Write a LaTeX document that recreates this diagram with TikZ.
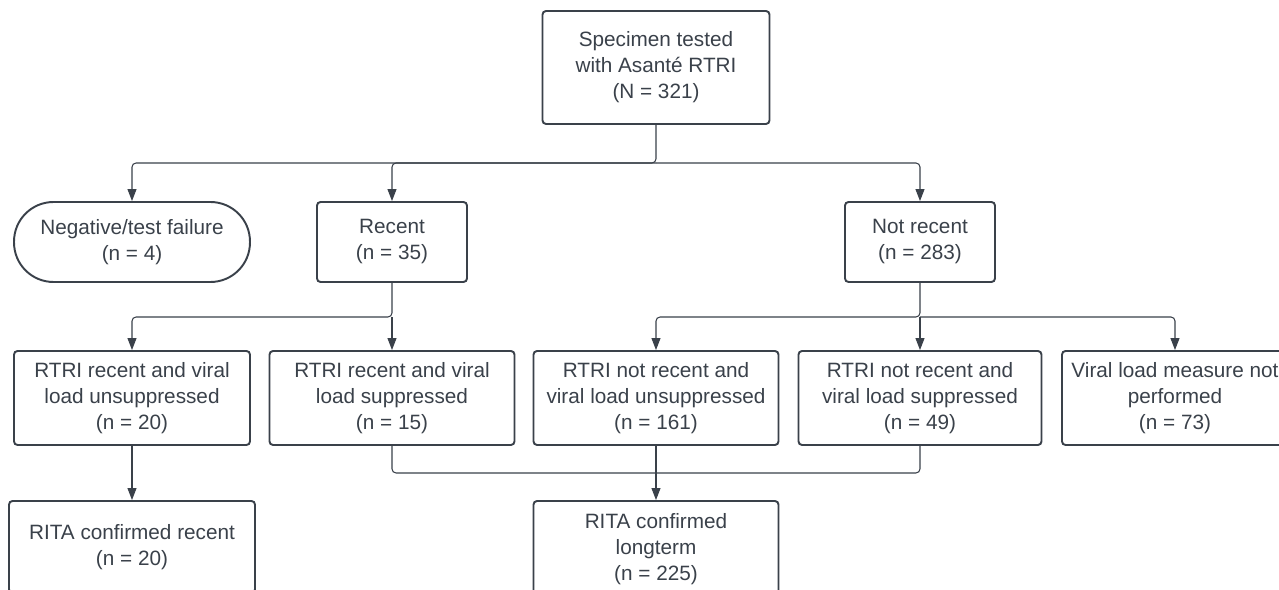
\documentclass[tikz,border=0pt]{standalone}
\usepackage{fontspec}
\setmainfont{Liberation Sans}
\usetikzlibrary{arrows.meta}
\definecolor{ink}{RGB}{58,65,74}

\begin{document}
\begin{tikzpicture}[x=0.02cm,y=-0.02cm]
\tikzstyle{box}=[draw=ink,line width=1.1pt,rounded corners=2pt,align=center,text=ink,inner sep=2pt,font=\fontsize{11.8pt}{14.8pt}\selectfont]
\tikzstyle{line}=[draw=ink,line width=0.6pt,rounded corners=2.3pt]
\tikzstyle{conn}=[line,-{Triangle[length=6.8pt,width=5.1pt]}]
\fill[white] (0,0) rectangle (1279,590);
\useasboundingbox (0,0) rectangle (1279,590);
\clip (0,0) rectangle (1279,590);
% top
\node[box,minimum width=4.54cm,minimum height=2.26cm] (spec) at (656,67.5) {Specimen tested\\with Asanté RTRI\\(N = 321)};
% second row
\node[box,rounded corners=0.79cm,minimum width=4.72cm,minimum height=1.6cm] (neg) at (132,242) {Negative/test failure\\(n = 4)};
\node[box,minimum width=3cm,minimum height=1.6cm] (recent) at (392,242) {Recent\\(n = 35)};
\node[box,minimum width=3cm,minimum height=1.6cm] (notrecent) at (920,242) {Not recent\\(n = 283)};
% third row
\node[box,minimum width=4.72cm,minimum height=1.88cm] (recunsup) at (132,398) {RTRI recent and viral\\load unsuppressed\\(n = 20)};
\node[box,minimum width=4.9cm,minimum height=1.88cm] (recsup) at (392,398) {RTRI recent and viral\\load suppressed\\(n = 15)};
\node[box,minimum width=4.9cm,minimum height=1.88cm] (notunsup) at (656,398) {RTRI not recent and\\viral load unsuppressed\\(n = 161)};
\node[box,minimum width=4.86cm,minimum height=1.88cm] (notsup) at (920,398) {RTRI not recent and\\viral load suppressed\\(n = 49)};
\node[box,minimum width=4.52cm,minimum height=1.88cm] (noload) at (1175,398) {Viral load measure not\\performed\\(n = 73)};
% bottom row
\node[box,minimum width=4.92cm,minimum height=1.84cm] (ritarecent) at (132,547) {RITA confirmed recent\\(n = 20)};
\node[box,minimum width=4.9cm,minimum height=1.92cm] (ritalong) at (656,549) {RITA confirmed\\longterm\\(n = 225)};
% junctions
\coordinate (bus1) at (656,163);
\coordinate (bus2) at (392,317);
\coordinate (bus3) at (920,317);
\coordinate (bus4) at (656,473);
% connectors
\draw[conn] (spec.south) -- (bus1) -| (neg.north);
\draw[conn] (bus1) -| (recent.north);
\draw[conn] (bus1) -| (notrecent.north);
\draw[conn] (recent.south) -- (bus2) -| (recunsup.north);
\draw[conn] (bus2) -- (recsup.north);
\draw[conn] (notrecent.south) -- (bus3) -| (notunsup.north);
\draw[conn] (bus3) -- (notsup.north);
\draw[conn] (bus3) -| (noload.north);
\draw[conn] (recunsup.south) -- (ritarecent.north);
\draw[line] (recsup.south) |- (bus4);
\draw[line] (notsup.south) |- (bus4);
\draw[conn] (notunsup.south) -- (ritalong.north);
\end{tikzpicture}
\end{document}
